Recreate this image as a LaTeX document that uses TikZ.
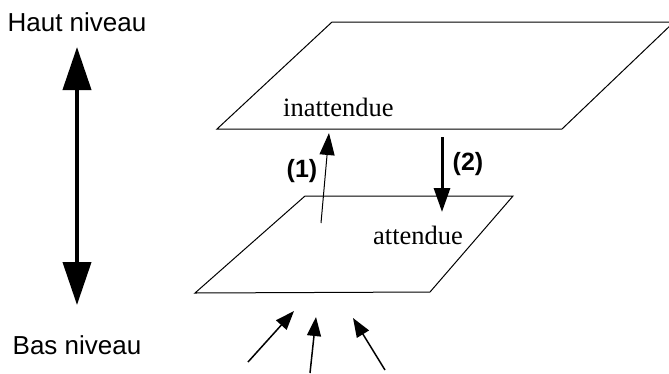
\documentclass[tikz,border=0pt]{standalone}
\usepackage{fontspec}
\setmainfont{Liberation Serif}
\setsansfont{Liberation Sans}
\usetikzlibrary{arrows.meta}
\begin{document}
\begin{tikzpicture}[x=1pt,y=-1pt,
  plane/.style={draw=black,line width=1pt,line join=miter},
  sanslbl/.style={font=\sffamily\fontsize{26}{26}\selectfont,inner sep=0pt},
  numlbl/.style={font=\sffamily\bfseries\fontsize{25}{25}\selectfont,inner sep=0pt},
  seriflbl/.style={font=\fontsize{26.5}{26.5}\selectfont,inner sep=0pt,anchor=west},
  bigarrow/.style={line width=4pt,{Triangle[length=43pt,width=28pt]}-{Triangle[length=43pt,width=28pt]}},
  thinarrow/.style={line width=1pt,-{Triangle[length=22pt,width=15pt]}},
  thickarrow/.style={line width=3pt,-{Triangle[length=24pt,width=16pt]}},
  inarrow/.style={line width=1.5pt,-{Triangle[length=19pt,width=14pt]}}]
\useasboundingbox (0,0) rectangle (669,373);
\clip (0,0) rectangle (669,373);
% planes
\coordinate (t1) at (332,22); \coordinate (t2) at (674,22);
\coordinate (t3) at (562,129); \coordinate (t4) at (217,129);
\draw[plane] (t1) -- (t2) -- (t3) -- (t4) -- cycle;
\coordinate (b1) at (305,196); \coordinate (b2) at (513,196);
\coordinate (b3) at (430,292); \coordinate (b4) at (195,293);
\draw[plane] (b1) -- (b2) -- (b3) -- (b4) -- cycle;
% texts
\node[sanslbl] (haut) at (77,22) {Haut niveau};
\node[sanslbl] (bas) at (77,345) {Bas niveau};
\node[seriflbl] (inatt) at (283,107) {inattendue};
\node[seriflbl] (att) at (373,235) {attendue};
\node[numlbl] (n1) at (302,171) {(1)};
\node[numlbl] (n2) at (468,164) {(2)};
% left double arrow
\coordinate (lt) at (77,47); \coordinate (lb) at (77,305);
\draw[bigarrow] (lt) -- (lb);
% arrow (1)
\coordinate (a1s) at (321,223); \coordinate (a1e) at (329,133);
\draw[thinarrow] (a1s) -- (a1e);
% arrow (2)
\coordinate (a2s) at (442,137); \coordinate (a2e) at (442,212);
\draw[thickarrow] (a2s) -- (a2e);
% incoming arrows
\coordinate (i1s) at (248,362); \coordinate (i1e) at (294,311);
\coordinate (i2s) at (310,373); \coordinate (i2e) at (316,317);
\coordinate (i3s) at (385,370); \coordinate (i3e) at (353,318);
\draw[inarrow] (i1s) -- (i1e);
\draw[inarrow] (i2s) -- (i2e);
\draw[inarrow] (i3s) -- (i3e);
\end{tikzpicture}
\end{document}
